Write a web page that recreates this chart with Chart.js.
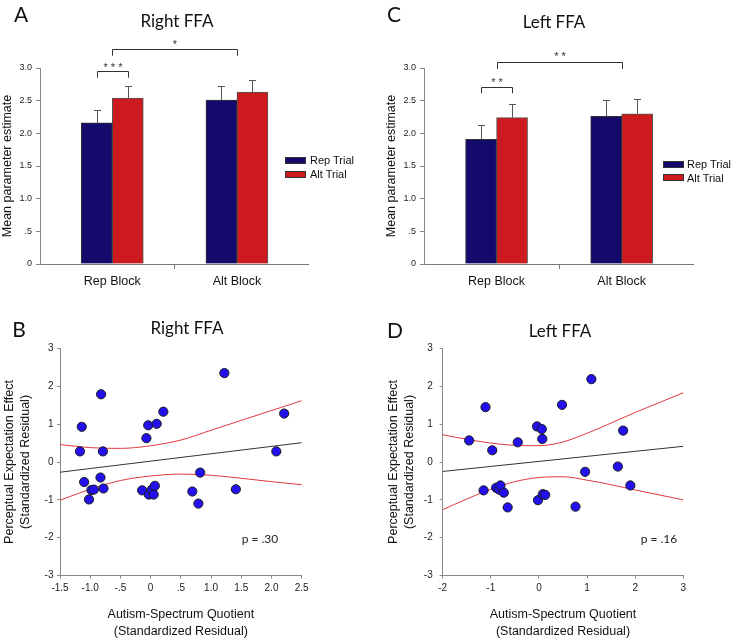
<!DOCTYPE html>
<html>
<head>
<meta charset="utf-8">
<title>FFA</title>
<script src="https://cdn.jsdelivr.net/npm/chart.js@4.4.0/dist/chart.umd.min.js"></script>
<style>
  body { margin: 0; background: #fff; }
  #fig { position: relative; width: 733px; height: 640px; overflow: hidden; font-family: "Liberation Sans", Arial, sans-serif; color: #111; }
  #fig canvas { position: absolute; }
  .t { position: absolute; white-space: nowrap; line-height: 1; transform: translate(-50%, -50%); }
  .letter { font-family: Lato, sans-serif; font-size: 21px; }
  .ttl { font-family: Lato, sans-serif; font-size: 17px; }
  .pv { font-family: Lato, sans-serif; font-size: 12px; color: #222; }
  .sw { position: absolute; width: 21px; height: 7px; border: 1px solid #333; box-sizing: border-box; }
  .lg { position: absolute; white-space: nowrap; line-height: 1; transform: translateY(-50%); font-size: 11px; }
</style>
</head>
<body>
<div id="fig">
  <canvas id="cA" width="366" height="320" style="left:0;top:0"></canvas>
  <canvas id="cC" width="367" height="320" style="left:366px;top:0"></canvas>
  <canvas id="cB" width="366" height="320" style="left:0;top:320px"></canvas>
  <canvas id="cD" width="367" height="320" style="left:366px;top:320px"></canvas>

  <div class="t letter" style="left:21px;top:13px">A</div>
  <div class="t ttl" style="left:177px;top:20px">Right FFA</div>
  <div class="t letter" style="left:394px;top:13px">C</div>
  <div class="t ttl" style="left:554px;top:21px">Left FFA</div>
  <div class="t letter" style="left:19px;top:328px">B</div>
  <div class="t ttl" style="left:187px;top:327px">Right FFA</div>
  <div class="t letter" style="left:395px;top:329px">D</div>
  <div class="t ttl" style="left:560px;top:330px">Left FFA</div>

  <div class="sw" style="left:285px;top:157px;background:#140a6b"></div>
  <div class="lg" style="left:310px;top:160px">Rep Trial</div>
  <div class="sw" style="left:285px;top:171px;background:#cc1a1f"></div>
  <div class="lg" style="left:310px;top:174px">Alt Trial</div>
  <div class="sw" style="left:663px;top:161px;background:#140a6b"></div>
  <div class="lg" style="left:687px;top:164px">Rep Trial</div>
  <div class="sw" style="left:663px;top:174px;background:#cc1a1f"></div>
  <div class="lg" style="left:687px;top:178px">Alt Trial</div>

  <div class="t pv" style="left:260px;top:539px">p = .30</div>
  <div class="t pv" style="left:659px;top:539px">p = .16</div>
</div>
<script>
Chart.defaults.font.family = '"Liberation Sans", Arial, sans-serif';
Chart.defaults.color = '#222';

// bar panels (A, C)
const blockX = [0, 1];
const trialNames = ['Rep Trial', 'Alt Trial'];
const rightRep = [2.16, 2.51];
const rightAlt = [2.54, 2.63];
const rightRepSE = [0.19, 0.22];
const rightAltSE = [0.19, 0.18];
const leftRep = [1.91, 2.26];
const leftAlt = [2.24, 2.30];
const leftRepSE = [0.22, 0.25];
const leftAltSE = [0.21, 0.23];
const barXTicks = [0, 0.5, 1];
const barXTickLabels = ['Rep Block', '', 'Alt Block'];
const barYTicks = [0, 0.5, 1, 1.5, 2, 2.5, 3];
const barYTickLabels = ['0', '.5', '1.0', '1.5', '2.0', '2.5', '3.0'];

// scatter panels (B, D)
const rightAQ = [-1.17, -1.14, -1.10, -1.02, -0.98, -0.94, -0.82, -0.83, -0.79, -0.78, -0.14, -0.07, -0.04,
                 -0.03, 0.02, 0.05, 0.07, 0.10, 0.21, 0.69, 0.79, 0.82, 1.22, 1.41, 2.08, 2.21];
const rightEffect = [0.28, 0.93, -0.53, -0.99, -0.74, -0.73, 1.79, -0.41, 0.28, -0.70, -0.75, 0.63, 0.97,
                     -0.86, -0.73, -0.86, -0.63, 1.01, 1.33, -0.78, -1.10, -0.28, 2.35, -0.72, 0.28, 1.28];
const rightFitX = [-1.5, 2.5];
const rightFitY = [-0.27, 0.51];
const rightBandX = [-1.5, -1, -0.5, 0, 0.5, 1, 1.5, 2, 2.5];
const rightBandUpper = [0.46, 0.38, 0.36, 0.43, 0.58, 0.84, 1.10, 1.36, 1.62];
const rightBandLower = [-1.01, -0.72, -0.49, -0.37, -0.32, -0.35, -0.43, -0.52, -0.60];
const rightXTicks = [-1.5, -1, -0.5, 0, 0.5, 1, 1.5, 2, 2.5];
const rightXTickLabels = ['-1.5', '-1.0', '-.5', '0', '.5', '1.0', '1.5', '2.0', '2.5'];

const leftAQ = [-1.45, -1.11, -0.97, -1.15, -0.89, -0.83, -0.80, -0.73, -0.65, -0.44, -0.04, 0.06,
                0.07, -0.02, 0.08, 0.13, 0.48, 0.76, 0.96, 1.09, 1.64, 1.75, 1.90];
const leftEffect = [0.57, 1.45, 0.31, -0.75, -0.68, -0.73, -0.62, -0.81, -1.20, 0.52, 0.94, 0.87,
                    0.61, -1.01, -0.85, -0.87, 1.51, -1.18, -0.26, 2.19, -0.12, 0.83, -0.62];
const leftFitX = [-2, 3];
const leftFitY = [-0.25, 0.415];
const leftBandX = [-2, -1.5, -1, -0.5, 0, 0.5, 1, 1.5, 2, 2.5, 3];
const leftBandUpper = [0.72, 0.60, 0.50, 0.44, 0.43, 0.53, 0.76, 1.03, 1.31, 1.57, 1.83];
const leftBandLower = [-1.26, -0.98, -0.72, -0.52, -0.41, -0.39, -0.48, -0.60, -0.74, -0.87, -1.00];
const leftXTicks = [-2, -1, 0, 1, 2, 3];
const leftXTickLabels = ['-2', '-1', '0', '1', '2', '3'];

const scatterYTicks = [-3, -2, -1, 0, 1, 2, 3];
const scatterYTickLabels = ['-3', '-2', '-1', '0', '1', '2', '3'];

const NAVY = '#140a6b';
const RED = '#cc1a1f';
const AXIS = '#888';

const pts = (xs, ys) => xs.map((x, i) => ({x: x, y: ys[i]}));
const setTicks = vals => axis => { axis.ticks = vals.map(v => ({value: v})); };

// error bars + significance brackets, placed through the chart scales
const barExtras = {
  id: 'barExtras',
  afterDatasetsDraw(chart, args, opts) {
    const ctx = chart.ctx;
    const x = chart.scales.x, y = chart.scales.y;
    ctx.save();
    ctx.strokeStyle = '#555';
    ctx.lineWidth = 1;
    chart.data.datasets.forEach((ds, i) => {
      chart.getDatasetMeta(i).data.forEach((bar, j) => {
        const px = Math.round(bar.x) + 0.5;
        const top = Math.round(y.getPixelForValue(ds.data[j].y + opts.se[i][j])) + 0.5;
        ctx.beginPath();
        ctx.moveTo(px, bar.y);
        ctx.lineTo(px, top);
        ctx.moveTo(px - 3.5, top);
        ctx.lineTo(px + 3.5, top);
        ctx.stroke();
      });
    });
    ctx.strokeStyle = '#333';
    ctx.fillStyle = '#333';
    ctx.font = '11px "Liberation Sans", Arial, sans-serif';
    ctx.textAlign = 'center';
    ctx.textBaseline = 'alphabetic';
    opts.brackets.forEach(b => {
      const x0 = Math.round(x.getPixelForValue(b.from)) + 0.5;
      const x1 = Math.round(x.getPixelForValue(b.to)) + 0.5;
      const yy = Math.round(y.getPixelForValue(b.y)) + 0.5;
      const yd = y.getPixelForValue(b.drop);
      ctx.beginPath();
      ctx.moveTo(x0, yd);
      ctx.lineTo(x0, yy);
      ctx.lineTo(x1, yy);
      ctx.lineTo(x1, yd);
      ctx.stroke();
      ctx.fillText(b.text, (x0 + x1) / 2, y.getPixelForValue(b.textY) + 6.5);
    });
    ctx.restore();
  }
};

function barPanel(id, rep, alt, repSE, altSE, brackets, padLeft, padRight) {
  return new Chart(document.getElementById(id), {
    type: 'bar',
    data: {
      datasets: [
        {label: trialNames[0], data: pts(blockX, rep), backgroundColor: NAVY, borderColor: '#333', borderWidth: 1, barThickness: 31},
        {label: trialNames[1], data: pts(blockX, alt), backgroundColor: RED, borderColor: '#555', borderWidth: 1, barThickness: 31}
      ]
    },
    options: {
      responsive: false,
      animation: false,
      layout: {padding: {left: padLeft, right: padRight, top: 68, bottom: 26}},
      plugins: {
        legend: {display: false},
        tooltip: {enabled: false},
        barExtras: {se: [repSE, altSE], brackets: brackets}
      },
      scales: {
        x: {
          type: 'linear',
          min: -0.58,
          max: 1.57,
          offset: false,
          afterBuildTicks: setTicks(barXTicks),
          afterFit: a => { a.height = 30; },
          ticks: {
            autoSkip: false,
            maxRotation: 0,
            padding: 5,
            color: '#111',
            font: {size: 12.5},
            callback: (v, i) => barXTickLabels[i]
          },
          grid: {
            drawOnChartArea: false,
            offset: false,
            tickLength: 5,
            tickColor: c => (c.tick && c.tick.value === 0.5) ? '#777' : 'rgba(0,0,0,0)'
          },
          border: {color: '#777'}
        },
        y: {
          min: 0,
          max: 3,
          afterBuildTicks: setTicks(barYTicks),
          afterFit: a => { a.width = 40; },
          ticks: {
            padding: 4,
            color: '#222',
            font: {size: 9},
            callback: (v, i) => barYTickLabels[i]
          },
          grid: {drawOnChartArea: false, tickLength: 4, tickColor: AXIS},
          border: {color: AXIS},
          title: {
            display: true,
            text: 'Mean parameter estimate',
            color: '#111',
            font: {size: 12.5},
            padding: {top: 0, bottom: 0}
          }
        }
      }
    },
    plugins: [barExtras]
  });
}

function scatterPanel(id, p) {
  return new Chart(document.getElementById(id), {
    type: 'scatter',
    data: {
      datasets: [
        {data: pts(p.aq, p.eff), pointRadius: 4.6, pointBackgroundColor: '#2211ee', pointBorderColor: '#1a1a1a', pointBorderWidth: 1},
        {type: 'line', data: pts(p.fitX, p.fitY), borderColor: '#333', borderWidth: 1, pointRadius: 0},
        {type: 'line', data: pts(p.bandX, p.upper), borderColor: '#e0393c', borderWidth: 1, pointRadius: 0, cubicInterpolationMode: 'monotone'},
        {type: 'line', data: pts(p.bandX, p.lower), borderColor: '#e0393c', borderWidth: 1, pointRadius: 0, cubicInterpolationMode: 'monotone'}
      ]
    },
    options: {
      responsive: false,
      animation: false,
      layout: {padding: {left: p.padLeft, right: p.padRight, top: 28.5, bottom: 0}},
      plugins: {legend: {display: false}, tooltip: {enabled: false}},
      scales: {
        x: {
          type: 'linear',
          min: p.xTicks[0],
          max: p.xTicks[p.xTicks.length - 1],
          afterBuildTicks: setTicks(p.xTicks),
          afterFit: a => { a.height = 64.5; },
          ticks: {autoSkip: false, maxRotation: 0, padding: 3.5, color: '#222', font: {size: 10}, callback: (v, i) => p.xLabels[i]},
          grid: {drawOnChartArea: false, tickLength: 3, tickColor: AXIS},
          border: {color: AXIS},
          title: {
            display: true,
            text: ['Autism-Spectrum Quotient', '(Standardized Residual)'],
            color: '#111',
            font: {size: 12.5, lineHeight: 1.35},
            padding: {top: 0, bottom: 0}
          }
        },
        y: {
          min: -3,
          max: 3,
          afterBuildTicks: setTicks(scatterYTicks),
          afterFit: a => { a.width = 60; },
          ticks: {padding: p.yTickPad, color: '#222', font: {size: 10}, callback: (v, i) => scatterYTickLabels[i]},
          grid: {drawOnChartArea: false, tickLength: 3, tickColor: AXIS},
          border: {color: AXIS},
          title: {
            display: true,
            text: ['Perceptual Expectation Effect', '(Standardized Residual)'],
            color: '#111',
            font: {size: 12.5, lineHeight: 1.25},
            padding: {top: p.yTitlePad, bottom: 0}
          }
        }
      }
    }
  });
}

barPanel('cA', rightRep, rightAlt, rightRepSE, rightAltSE, [
  {from: -0.124, to: 0.124, y: 2.954, drop: 2.852, textY: 3.06, text: '* * *'},
  {from: 0, to: 1, y: 3.291, drop: 3.188, textY: 3.40, text: '*'}
], 0, 58);

barPanel('cC', leftRep, leftAlt, leftRepSE, leftAltSE, [
  {from: -0.124, to: 0.124, y: 2.705, drop: 2.613, textY: 2.83, text: '* *'},
  {from: 0, to: 1, y: 3.087, drop: 2.985, textY: 3.225, text: '* *'}
], 18, 40);

scatterPanel('cB', {
  aq: rightAQ, eff: rightEffect, fitX: rightFitX, fitY: rightFitY,
  bandX: rightBandX, upper: rightBandUpper, lower: rightBandLower,
  xTicks: rightXTicks, xLabels: rightXTickLabels,
  padLeft: 0, padRight: 64.3, yTickPad: 3.5, yTitlePad: 2
});

scatterPanel('cD', {
  aq: leftAQ, eff: leftEffect, fitX: leftFitX, fitY: leftFitY,
  bandX: leftBandX, upper: leftBandUpper, lower: leftBandLower,
  xTicks: leftXTicks, xLabels: leftXTickLabels,
  padLeft: 16.7, padRight: 49.7, yTickPad: 7, yTitlePad: 3
});
</script>
</body>
</html>
